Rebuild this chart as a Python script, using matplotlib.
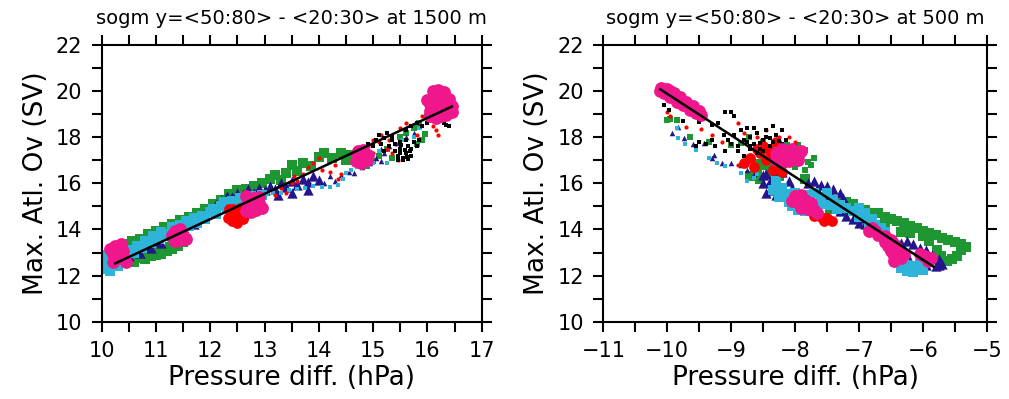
import matplotlib
matplotlib.use("Agg")
import matplotlib.pyplot as plt

plt.rcParams['font.family'] = ['DejaVu Sans']

# colours of the runs
C_BLACK = '#000000'
C_RED = '#ff0000'
C_GREEN = '#1e9632'
C_NAVY = '#24158c'
C_CYAN = '#2db4d8'
C_MAG = '#f0168c'

titles = ['sogm y=<50:80> - <20:30> at 1500 m', 'sogm y=<50:80> - <20:30> at 500 m']
xlabel = 'Pressure diff. (hPa)'
ylabel = 'Max. Atl. Ov (SV)'

# ---------------- left panel (1500 m) ----------------
l_cyan_x = [10.05, 10.1, 10.1, 10.15, 10.2, 10.25, 10.3, 10.35, 10.45, 10.5, 10.6, 10.65, 10.75, 10.8, 10.9, 10.95,
            11.05, 11.1, 11.2, 11.3, 11.35, 11.45, 11.55, 11.6, 11.7, 11.75, 11.85, 11.9, 12.0, 12.05, 12.1, 12.2,
            12.25, 12.3, 12.4, 12.5, 12.55, 12.65, 12.75, 12.85, 12.95]
l_cyan_y = [12.3, 12.6, 12.9, 12.2, 12.5, 12.8, 12.4, 12.6, 12.9, 13.1, 13.0, 13.3, 13.2, 13.5, 13.4, 13.7,
            13.6, 13.9, 13.8, 14.1, 13.95, 14.2, 14.35, 14.15, 14.5, 14.3, 14.6, 14.45, 14.75, 14.9, 14.65, 15.0,
            15.2, 14.9, 15.25, 15.1, 15.35, 15.3, 15.45, 15.4, 15.5]
l_cyan_sx = [13.05, 13.15, 13.3, 13.45, 13.6, 13.75, 13.9, 14.05, 14.2, 14.35, 14.45, 14.5, 14.6, 14.7, 14.8, 14.9,
             15.1, 15.35, 15.55, 15.75, 15.85, 15.25, 15.0]
l_cyan_sy = [15.55, 15.6, 15.6, 15.7, 15.75, 15.8, 15.9, 15.85, 15.85, 15.95, 16.2, 16.45, 16.6, 16.7, 16.7, 16.8,
             17.4, 17.9, 17.9, 18.0, 18.4, 16.9, 16.9]

l_navy_x = [10.3, 10.4, 10.5, 10.6, 10.7, 10.8, 10.9, 11.0, 11.1, 11.2, 11.3, 11.4, 11.5, 11.6, 11.7, 11.8, 11.9,
            12.0, 12.1, 12.2, 12.3, 12.4, 12.5, 12.6, 12.7, 12.8, 12.9, 13.0, 13.1, 13.2, 13.3, 13.4, 13.5, 13.6,
            13.7, 13.8, 13.9, 14.0, 13.25, 13.5, 13.8]
l_navy_y = [12.8, 12.95, 12.85, 13.1, 13.0, 13.3, 13.2, 13.5, 13.4, 13.75, 13.7, 13.9, 14.0, 14.35, 14.25, 14.55, 14.7,
            14.95, 15.1, 15.3, 15.45, 15.4, 15.6, 15.55, 15.75, 15.6, 15.8, 15.7, 15.9, 15.75, 16.0, 15.85, 16.1, 15.95,
            16.2, 16.05, 16.3, 16.15, 15.5, 15.6, 15.7]
l_navy_sx = [14.1, 14.2, 14.3, 14.4, 14.55, 14.65, 14.8, 14.95, 15.05, 15.15, 15.2, 15.3, 15.45, 15.6, 15.75, 15.85,
             15.15, 14.7]
l_navy_sy = [16.0, 16.3, 16.1, 16.35, 16.5, 16.45, 16.7, 16.9, 17.1, 16.95, 17.3, 17.6, 17.75, 18.0, 18.2, 18.5,
             17.5, 16.8]

l_green_x = [10.5, 10.6, 10.7, 10.8, 10.9, 11.0, 11.1, 11.2, 11.3, 11.4, 11.5, 11.55, 10.65, 10.85, 11.05, 11.25, 11.45,
             10.4, 10.55, 10.7, 10.85, 11.0, 11.15, 11.3, 11.45, 11.6, 11.75, 11.9, 12.05, 12.2, 12.35, 12.5, 12.65,
             12.8, 12.95, 13.1, 13.2, 13.3, 13.4, 13.5, 13.6, 13.7, 13.85, 14.0, 14.1, 14.25, 14.4, 14.5, 14.6,
             14.75, 14.85]
l_green_y = [12.65, 12.6, 12.75, 12.7, 12.85, 12.9, 12.95, 13.05, 13.15, 13.3, 13.45, 13.6, 12.9, 12.95, 13.1, 13.25, 13.55,
             13.35, 13.5, 13.6, 13.8, 13.95, 14.1, 14.25, 14.4, 14.55, 14.7, 14.9, 15.1, 15.3, 15.55, 15.7, 15.75,
             15.9, 16.0, 16.2, 16.35, 16.15, 16.45, 16.8, 16.55, 16.9, 16.75, 17.15, 17.3, 17.1, 17.3, 17.0, 17.25,
             16.95, 16.85]
l_green_sx = [15.0, 15.1, 15.25, 15.5, 15.6, 15.75, 15.85, 15.9, 15.95, 15.8, 16.0, 15.35]
l_green_sy = [16.95, 17.2, 17.5, 18.0, 18.2, 18.4, 18.6, 17.9, 18.15, 17.7, 18.9, 17.1]

l_red_x = [12.32, 12.4, 12.5, 12.6, 12.38, 12.48, 12.58, 12.42, 12.55, 12.65, 12.35, 12.63]
l_red_y = [14.5, 14.35, 14.3, 14.45, 14.7, 14.6, 14.7, 14.9, 14.95, 14.85, 14.9, 14.6]
l_red_sx = [13.2, 13.3, 13.4, 13.5, 13.55, 13.7, 13.8, 13.9, 14.0, 14.05, 13.6, 14.2, 14.3, 14.4, 14.35, 14.7, 14.9,
            15.0, 15.1, 15.15, 15.25, 15.3, 15.35, 15.4, 15.5, 15.6, 15.8, 15.9, 16.0, 16.1, 16.15, 16.2, 15.45, 15.0]
l_red_sy = [15.5, 15.8, 15.6, 16.0, 16.3, 16.4, 16.7, 16.9, 17.1, 16.6, 16.1, 16.5, 16.8, 16.4, 16.2, 17.3, 17.6,
            17.9, 17.8, 18.1, 17.5, 17.9, 17.3, 17.7, 18.4, 18.6, 18.1, 18.9, 19.0, 18.5, 18.3, 18.1, 17.0, 17.3]

l_black_x = [14.85, 14.9, 15.0, 15.05, 15.1, 15.15, 15.2, 15.25, 15.3, 15.2, 15.35, 15.4, 15.45, 15.5, 15.55, 15.6,
             15.65, 15.7, 15.5, 15.6, 15.7, 15.75, 15.45, 15.55, 15.65, 15.8, 15.85, 15.6, 15.7, 15.8, 15.9, 16.0,
             16.3, 16.35, 16.4, 15.4, 15.5, 15.35, 15.58, 15.62, 15.52, 15.68]
l_black_y = [17.4, 17.7, 17.6, 17.9, 18.1, 17.7, 17.95, 18.2, 17.6, 17.4, 17.9, 17.4, 17.2, 17.5, 17.1, 17.3,
             17.6, 17.2, 17.8, 17.9, 17.5, 17.8, 17.0, 17.0, 17.05, 17.6, 17.9, 18.3, 18.5, 18.6, 18.5, 18.6,
             18.6, 18.55, 18.5, 17.7, 17.3, 18.0, 17.45, 17.15, 17.65, 17.4]

l_mag_x = [10.2, 10.3, 10.4, 10.2, 10.3, 10.4, 10.25, 10.35, 10.45, 10.15,
           11.35, 11.45, 11.3, 11.4, 11.5, 11.35, 11.45, 11.55,
           12.65, 12.75, 12.85, 12.95, 12.7, 12.8, 12.9, 12.7, 12.8, 12.9, 12.65,
           14.68, 14.78, 14.88, 14.7, 14.8, 14.9, 14.72, 14.82,
           16.05, 16.15, 16.25, 16.35, 16.45, 16.05, 16.15, 16.25, 16.35, 16.45, 16.05, 16.15, 16.25, 16.35,
           16.1, 16.2, 16.3, 16.1, 16.2, 16.3, 16.4, 16.0]
l_mag_y = [12.6, 12.75, 12.8, 12.95, 13.1, 13.05, 13.3, 13.35, 12.6, 13.15,
           13.5, 13.55, 13.75, 13.8, 13.75, 13.95, 14.0, 13.6,
           14.8, 14.75, 14.85, 14.95, 15.0, 15.05, 15.15, 15.25, 15.35, 15.4, 15.45,
           16.95, 16.9, 17.0, 17.15, 17.2, 17.25, 17.4, 17.45,
           18.9, 18.85, 18.9, 18.95, 19.1, 19.15, 19.2, 19.25, 19.3, 19.35, 19.45, 19.5, 19.55, 19.6,
           19.75, 19.8, 19.85, 20.0, 20.05, 19.95, 19.65, 19.6]

l_fit_x = [10.25, 16.45]
l_fit_y = [12.53, 19.33]

# ---------------- right panel (500 m) ----------------
r_mag_x = [-10.1, -10.05, -10.0, -9.95, -9.9, -9.85, -9.8, -9.75, -9.7, -9.65, -9.6, -9.55, -9.5, -9.47, -10.12, -9.95,
           -9.78, -9.62,
           -8.3, -8.2, -8.1, -7.95, -8.3, -8.2, -8.1, -7.95, -8.2, -8.05, -7.9,
           -8.0, -7.9, -8.05, -7.95, -7.85, -7.75, -7.9, -7.8, -7.7, -7.65,
           -6.85, -6.75, -6.7, -6.6, -6.5, -6.45, -6.6, -6.8,
           -6.55, -6.5, -6.45, -6.4, -6.35, -6.3, -6.45,
           -6.05, -5.98, -5.92, -5.88]
r_mag_y = [20.15, 19.9, 20.1, 19.75, 19.9, 19.55, 19.75, 19.4, 19.55, 19.2, 19.35, 19.05, 19.15, 18.95, 20.0, 20.0,
           19.62, 19.25,
           17.0, 16.95, 16.95, 17.0, 17.3, 17.25, 17.3, 17.25, 17.5, 17.5, 17.4,
           15.45, 15.5, 15.25, 15.2, 15.3, 15.15, 14.95, 14.9, 14.85, 14.7,
           13.95, 13.95, 13.75, 13.7, 13.55, 13.35, 13.45, 14.05,
           13.3, 13.05, 12.85, 13.2, 12.75, 12.95, 12.65,
           12.95, 12.85, 12.65, 12.75]

r_red_x = [-7.75, -7.65, -7.6, -7.5, -7.42, -7.55, -7.7,
           -8.8, -8.7, -8.65, -8.55, -8.5, -8.45, -8.4, -8.35, -8.3, -8.25, -8.2, -8.6]
r_red_y = [14.8, 14.7, 14.55, 14.5, 14.35, 14.35, 14.6,
           16.9, 17.1, 16.7, 17.3, 17.6, 17.0, 17.4, 16.6, 17.8, 17.2, 16.5, 17.5]
r_red_sx = [-10.0, -9.95, -9.7, -9.47, -9.3, -9.15, -8.9, -8.8, -8.75, -8.6, -8.45, -8.25, -8.1, -8.0, -8.9, -8.15, -7.9]
r_red_sy = [19.1, 18.9, 18.45, 18.35, 18.1, 17.8, 18.6, 18.2, 17.1, 18.0, 18.3, 18.0, 18.0, 17.8, 16.8, 16.8, 17.2]

r_black_x = [-10.05, -9.98, -9.75, -9.5, -9.3, -9.2, -9.1, -9.0, -8.95, -9.12, -9.5, -9.4, -9.3, -9.55, -9.25, -9.1,
             -9.05, -9.0, -8.95, -8.9, -8.85, -8.8, -8.75, -8.7, -8.7, -8.65, -8.6, -8.55, -8.5, -8.45, -8.4, -8.35,
             -8.3, -8.25, -8.2, -8.15, -8.1, -8.6, -8.8, -8.9, -8.45, -8.75, -8.5, -8.3, -8.65, -8.35, -8.0, -8.2,
             -8.55, -8.4, -8.7, -8.25]
r_black_y = [19.4, 19.2, 18.7, 18.65, 18.55, 18.6, 19.1, 19.1, 18.9, 18.1, 17.8, 17.7, 17.9, 17.6, 17.6, 17.4,
             17.9, 17.7, 18.1, 17.6, 18.3, 17.9, 18.4, 17.5, 18.0, 17.7, 18.2, 17.5, 17.9, 18.3, 17.6, 17.8,
             18.1, 17.5, 17.7, 17.9, 17.4, 17.3, 17.2, 17.4, 18.0, 17.8, 17.4, 17.3, 18.4, 18.5, 17.6, 18.3,
             17.75, 17.95, 17.6, 17.85]

r_green_x = [-8.7, -8.6, -8.55, -8.45, -8.4, -8.3, -8.2, -8.6, -8.35, -8.25,
             -7.85, -7.7, -7.6, -7.5, -7.4, -7.3, -7.2, -7.1, -7.0, -6.9, -6.8, -6.7, -6.6, -6.5, -6.4, -6.3,
             -6.2, -6.1, -6.0, -5.9, -5.8, -5.7, -5.6, -5.5, -5.4, -5.33, -5.4, -5.47, -5.55, -5.63, -5.72,
             -5.78, -5.9, -6.0, -6.2, -6.35, -6.6, -6.8, -7.0, -7.2, -7.45]
r_green_y = [16.3, 16.5, 16.2, 16.8, 16.4, 16.6, 16.9, 16.85, 17.0, 16.3,
             16.2, 15.6, 15.35, 15.1, 15.15, 15.1, 15.2, 15.1, 14.95, 14.85, 14.7, 14.7, 14.55, 14.45, 14.35, 14.3,
             14.15, 14.05, 13.95, 13.85, 13.75, 13.65, 13.55, 13.45, 13.35, 13.25, 13.1, 12.85, 12.7, 12.65, 12.85,
             13.1, 13.5, 13.7, 13.85, 13.9, 14.2, 14.45, 14.65, 14.85, 14.9]
r_green_sx = [-10.0, -9.95, -9.85, -9.64, -9.35, -9.0, -8.85, -8.72, -8.5, -8.38, -8.12, -7.96, -7.85, -7.8, -7.75,
              -7.85, -8.0, -7.7]
r_green_sy = [18.75, 18.8, 18.75, 18.0, 17.8, 17.66, 17.74, 18.0, 17.8, 17.5, 17.66, 17.66, 17.45, 16.94, 16.8,
              16.58, 16.7, 17.1]

r_navy_x = [-8.5, -8.45, -8.4, -8.35, -8.3, -8.25, -8.2, -8.15, -8.1, -8.05, -8.45, -8.3, -8.5, -8.4, -8.2, -8.1,
            -7.8, -7.7, -7.6, -7.5, -7.4, -7.3, -7.25, -7.2, -7.65, -7.45,
            -7.3, -7.2, -7.1, -7.0, -6.9, -7.15, -7.0, -6.9,
            -6.35, -6.25, -6.15, -6.05, -5.95, -5.85, -5.75, -5.7, -5.8, -5.95, -6.1, -6.25, -6.3, -5.75]
r_navy_y = [16.0, 16.4, 15.7, 16.2, 15.5, 15.9, 16.5, 15.6, 16.1, 15.8, 15.6, 16.6, 16.35, 16.1, 15.6, 15.4,
            16.0, 16.1, 15.95, 15.9, 15.75, 15.6, 15.35, 15.1, 15.75, 15.55,
            14.8, 14.6, 14.45, 14.3, 14.25, 14.85, 14.65, 14.5,
            13.4, 13.5, 13.35, 13.2, 13.1, 12.9, 12.7, 12.5, 12.4, 12.45, 12.6, 12.9, 13.15, 12.45]
r_navy_sx = [-9.92, -9.83, -9.74, -9.6, -9.43, -9.3, -9.27, -9.15, -9.0, -8.85, -8.75, -8.65]
r_navy_sy = [18.2, 18.45, 17.95, 17.7, 17.74, 17.1, 17.23, 16.9, 16.87, 16.8, 16.58, 16.4]

r_cyan_x = [-8.2, -8.15, -8.1, -8.05, -7.95, -7.85, -7.75, -7.7, -7.6, -7.5, -7.4, -7.3, -7.2, -7.1, -7.0, -6.9,
            -6.8, -6.75, -8.0, -8.3, -8.25, -8.1, -7.95, -7.8, -7.6, -7.45, -7.35, -7.0, -6.85, -6.65, -6.6,
            -8.35, -7.85,
            -6.4, -6.3, -6.2, -6.1, -6.0, -6.35, -6.25, -6.15, -6.05, -6.3]
r_cyan_y = [15.8, 15.5, 15.2, 15.0, 14.85, 14.8, 14.95, 15.6, 15.4, 15.6, 15.3, 15.05, 14.95, 14.8, 14.95, 14.7,
            14.45, 14.2, 15.6, 16.1, 15.4, 15.55, 15.4, 15.5, 15.1, 15.05, 14.9, 14.55, 14.3, 14.05, 13.9,
            15.7, 15.2,
            12.7, 12.55, 12.4, 12.3, 12.25, 12.35, 12.2, 12.15, 12.5, 12.8]
r_cyan_sx = [-9.85, -9.83, -9.72, -9.55, -9.35, -9.22, -9.1, -8.85, -8.65, -8.6, -8.75]
r_cyan_sy = [18.4, 17.95, 17.7, 17.45, 17.1, 16.9, 16.75, 16.45, 16.24, 16.4, 16.1]

r_fit_x = [-10.11, -5.835]
r_fit_y = [20.08, 12.39]


def draw_panel(ax, d, xlim, xticks, title):
    # dense clouds (big markers) and scattered points (small markers)
    ax.scatter(d['green'][0], d['green'][1], s=48, marker='s', c=C_GREEN, linewidths=0)
    ax.scatter(d['green_s'][0], d['green_s'][1], s=16, marker='s', c=C_GREEN, linewidths=0)
    ax.scatter(d['navy'][0], d['navy'][1], s=55, marker='^', c=C_NAVY, linewidths=0)
    ax.scatter(d['navy_s'][0], d['navy_s'][1], s=16, marker='^', c=C_NAVY, linewidths=0)
    ax.scatter(d['cyan'][0], d['cyan'][1], s=48, marker='s', c=C_CYAN, linewidths=0)
    ax.scatter(d['cyan_s'][0], d['cyan_s'][1], s=10, marker='s', c=C_CYAN, linewidths=0)
    ax.scatter(d['red'][0], d['red'][1], s=60, marker='o', c=C_RED, linewidths=0)
    ax.scatter(d['red_s'][0], d['red_s'][1], s=9, marker='o', c=C_RED, linewidths=0)
    ax.scatter(d['black'][0], d['black'][1], s=12, marker='s', c=C_BLACK, linewidths=0)
    ax.scatter(d['mag'][0], d['mag'][1], s=85, marker='o', c=C_MAG, linewidths=0)
    ax.plot(d['fit'][0], d['fit'][1], color='black', lw=1.8)

    ax.set_xlim(*xlim)
    ax.set_ylim(10, 22)
    ax.set_xticks(xticks)
    ax.set_xticks([v + 0.5 for v in xticks[:-1]], minor=True)
    ax.set_yticks(range(10, 23, 2))
    ax.set_yticks(range(11, 22, 2), minor=True)
    ax.tick_params(which='both', direction='out', length=7, width=1.5,
                   top=True, right=True, labelsize=15)
    ax.tick_params(axis='both', which='major', pad=7)
    for sp in ax.spines.values():
        sp.set_linewidth(1.5)
    ax.set_xlabel(xlabel, fontsize=19, labelpad=3)
    ax.set_ylabel(ylabel, fontsize=19, labelpad=5)
    ax.set_title(title, fontsize=14, pad=15)


fig = plt.figure(figsize=(10.09, 3.99), dpi=100)
ax1 = fig.add_axes([0.1008, 0.1937, 0.3766, 0.6935])
ax2 = fig.add_axes([0.598, 0.1937, 0.38, 0.6935])

left = {'green': (l_green_x, l_green_y), 'green_s': (l_green_sx, l_green_sy),
        'navy': (l_navy_x, l_navy_y), 'navy_s': (l_navy_sx, l_navy_sy),
        'cyan': (l_cyan_x, l_cyan_y), 'cyan_s': (l_cyan_sx, l_cyan_sy),
        'red': (l_red_x, l_red_y), 'red_s': (l_red_sx, l_red_sy),
        'black': (l_black_x, l_black_y), 'mag': (l_mag_x, l_mag_y),
        'fit': (l_fit_x, l_fit_y)}
right = {'green': (r_green_x, r_green_y), 'green_s': (r_green_sx, r_green_sy),
         'navy': (r_navy_x, r_navy_y), 'navy_s': (r_navy_sx, r_navy_sy),
         'cyan': (r_cyan_x, r_cyan_y), 'cyan_s': (r_cyan_sx, r_cyan_sy),
         'red': (r_red_x, r_red_y), 'red_s': (r_red_sx, r_red_sy),
         'black': (r_black_x, r_black_y), 'mag': (r_mag_x, r_mag_y),
         'fit': (r_fit_x, r_fit_y)}

draw_panel(ax1, left, (10, 17), list(range(10, 18)), titles[0])
draw_panel(ax2, right, (-11, -5), list(range(-11, -4)), titles[1])

fig.savefig('out.png', dpi=100)
